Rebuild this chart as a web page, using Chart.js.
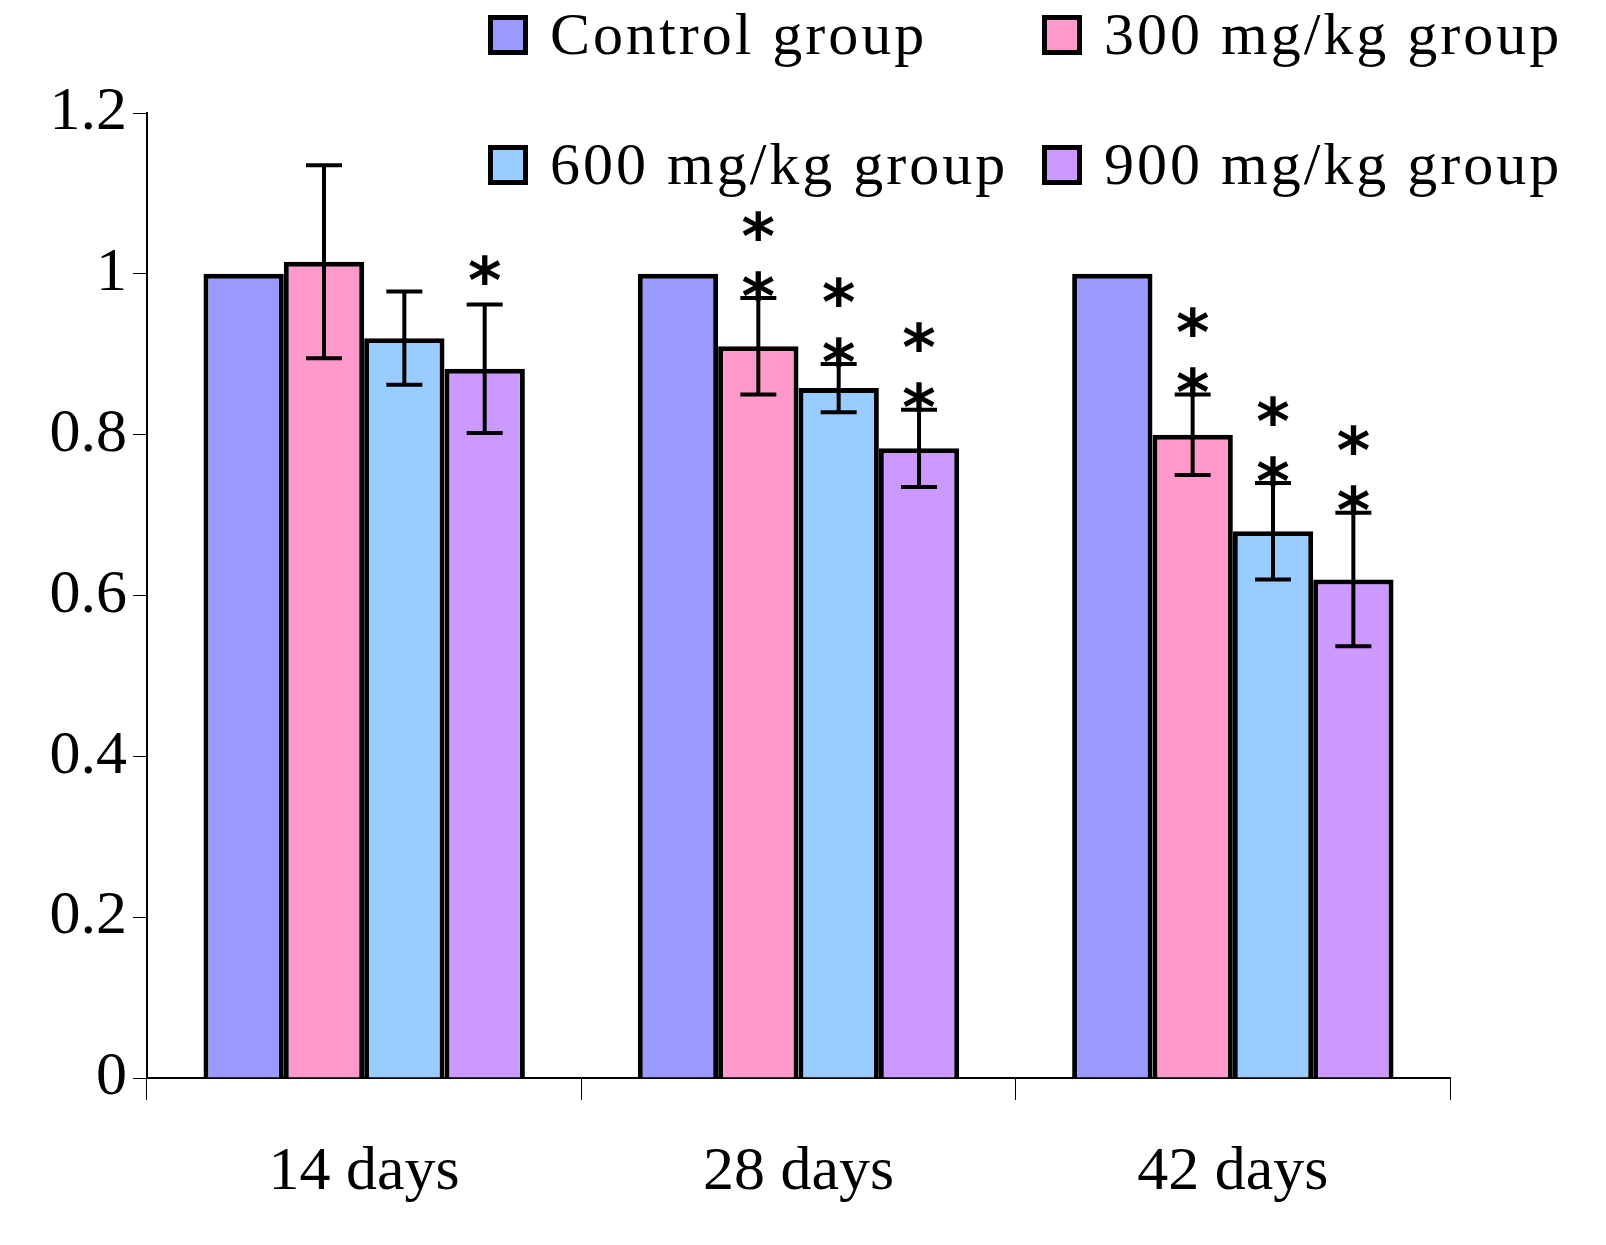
<!DOCTYPE html>
<html>
<head>
<meta charset="utf-8">
<script src="https://cdn.jsdelivr.net/npm/chart.js@4/dist/chart.umd.min.js"></script>
<style>
  body { margin: 0; background: #fff; }
  #wrap { position: relative; width: 1606px; height: 1245px; }
  .legend { position: absolute; font: 60px "Liberation Serif", serif; letter-spacing: 3px; color: #000; display: flex; align-items: center; white-space: nowrap; }
  .legend span.box { display: inline-block; width: 30px; height: 30px; border: 5px solid #000; margin-right: 22px; }
</style>
</head>
<body>
<div id="wrap">
  <canvas id="chart" width="1606" height="1245"></canvas>
  <div class="legend" style="left:488px;top:0px"><span class="box" style="background:#9999ff"></span>Control group</div>
  <div class="legend" style="left:1042px;top:0px"><span class="box" style="background:#ff99cc"></span>300 mg/kg group</div>
  <div class="legend" style="left:488px;top:130px"><span class="box" style="background:#99ccff"></span>600 mg/kg group</div>
  <div class="legend" style="left:1042px;top:130px"><span class="box" style="background:#cc99ff"></span>900 mg/kg group</div>
</div>
<script>
// Relative values per group
const days = ['14 days', '28 days', '42 days'];
const groupNames = ['Control group', '300 mg/kg group', '600 mg/kg group', '900 mg/kg group'];
const colors = ['#9999ff', '#ff99cc', '#99ccff', '#cc99ff'];
const control = [1, 1, 1];
const dose300 = [1.015, 0.91, 0.80];
const dose600 = [0.92, 0.858, 0.68];
const dose900 = [0.882, 0.783, 0.62];
const err300 = [0.12, 0.06, 0.05];
const err600 = [0.058, 0.03, 0.06];
const err900 = [0.08, 0.048, 0.083];
const stars300 = ['', '**', '**'];
const stars600 = ['', '**', '**'];
const stars900 = ['*', '**', '**'];
const yTicks = [0, 0.2, 0.4, 0.6, 0.8, 1, 1.2];

const values = [control, dose300, dose600, dose900];
const errors = [null, err300, err600, err900];
const stars = [null, stars300, stars600, stars900];

const errorBars = {
  id: 'errorBars',
  afterDatasetsDraw(chart) {
    const ctx = chart.ctx;
    const y = chart.scales.y;
    ctx.save();
    ctx.strokeStyle = '#000';
    ctx.lineWidth = 4;
    ctx.fillStyle = '#000';
    ctx.font = 'bold 64px "DejaVu Sans", sans-serif';
    ctx.textAlign = 'center';
    ctx.textBaseline = 'middle';
    chart.data.datasets.forEach((ds, i) => {
      if (!errors[i]) return;
      chart.getDatasetMeta(i).data.forEach((bar, j) => {
        const v = ds.data[j], e = errors[i][j];
        const top = y.getPixelForValue(v + e), bot = y.getPixelForValue(v - e);
        const x = bar.x, w = 18;
        ctx.beginPath();
        ctx.moveTo(x, top); ctx.lineTo(x, bot);
        ctx.moveTo(x - w, top); ctx.lineTo(x + w, top);
        ctx.moveTo(x - w, bot); ctx.lineTo(x + w, bot);
        ctx.stroke();
        const s = stars[i][j];
        for (let k = 0; k < s.length; k++) {
          ctx.fillText('*', x, top + 4 - k * 60 - (s.length === 1 ? 22 : 0));
        }
      });
    });
    ctx.restore();
  }
};

new Chart(document.getElementById('chart'), {
  type: 'bar',
  data: {
    labels: days,
    datasets: values.map((d, i) => ({
      label: groupNames[i],
      data: d,
      backgroundColor: colors[i],
      borderColor: '#000',
      borderWidth: 5,
      borderSkipped: 'bottom',
      categoryPercentage: 0.74,
      barPercentage: 1
    }))
  },
  options: {
    responsive: false,
    animation: false,
    layout: { padding: { top: 113, right: 156, bottom: 0, left: 0 } },
    plugins: { legend: { display: false }, tooltip: { enabled: false } },
    scales: {
      y: {
        min: 0, max: 1.2,
        afterBuildTicks(axis) { axis.ticks = yTicks.map(v => ({ value: v })); },
        afterFit(axis) { axis.width = 147; },
        grid: { drawOnChartArea: false, color: '#000', tickLength: 14 },
        border: { color: '#000', width: 2 },
        ticks: { color: '#000', font: { family: 'Liberation Serif', size: 62 }, padding: 6,
          callback: v => String(v) }
      },
      x: {
        afterFit(axis) { axis.height = 167; },
        grid: { offset: true, drawOnChartArea: false, color: '#000', tickLength: 22 },
        border: { color: '#000', width: 2 },
        ticks: { color: '#000', font: { family: 'Liberation Serif', size: 62 }, padding: 36 }
      }
    }
  },
  plugins: [errorBars]
});
</script>
</body>
</html>
